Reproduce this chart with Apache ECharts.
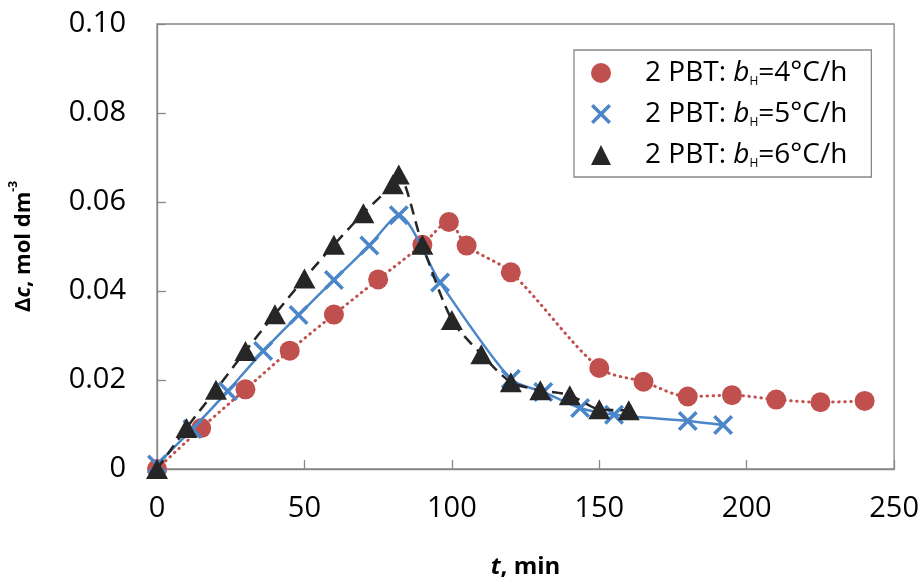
<!DOCTYPE html>
<html>
<head>
<meta charset="utf-8">
<script src="https://cdn.jsdelivr.net/npm/echarts@6/dist/echarts.min.js"></script>
<style>
html,body{margin:0;padding:0;background:#fff;}
#chart{width:922px;height:584px;}
</style>
</head>
<body>
<div id="chart"></div>
<script>
// ---- data ----
const seriesNames = ['2 PBT: bH=4°C/h', '2 PBT: bH=5°C/h', '2 PBT: bH=6°C/h'];
const seriesRates = ['4', '5', '6'];

const redT = [0, 15, 30, 45, 60, 75, 90, 99, 105, 120, 150, 165, 180, 195, 210, 225, 240];
const redC = [0, 0.0092, 0.0179, 0.0266, 0.0347, 0.0426, 0.0504, 0.0555, 0.0502, 0.0442, 0.0227, 0.0196, 0.0163, 0.0166, 0.0156, 0.0150, 0.0153];

const blueT = [0, 12, 24, 36, 48, 60, 72, 82, 96, 120, 131, 143.5, 155, 180, 192];
const blueC = [0.001, 0.009, 0.0175, 0.0265, 0.0346, 0.0425, 0.0502, 0.0570, 0.0419, 0.0202, 0.0173, 0.0137, 0.0122, 0.0108, 0.0099];

const blackT = [0, 10, 20, 30, 40, 50, 60, 70, 80, 82, 90, 100, 110, 120, 130, 140, 150, 160];
const blackC = [0, 0.0092, 0.0178, 0.0265, 0.0348, 0.0428, 0.0504, 0.0575, 0.0640, 0.0662, 0.0504, 0.0335, 0.0258, 0.0195, 0.0177, 0.0166, 0.0134, 0.0132];

const xTicks = { min: 0, max: 250, interval: 50 };
const yTicks = { min: 0, max: 0.10, interval: 0.02 };

// ---- styling ----
const FONT = 'Open Sans';
const RED = '#C0504D';
const BLUE = '#4A86C8';
const BLACK = '#262626';
const AXIS = '#888888';
const CROSS = 'path://M0,2.5L2.5,0L10,7.5L17.5,0L20,2.5L12.5,10L20,17.5L17.5,20L10,12.5L2.5,20L0,17.5L7.5,10Z';

function pairs(t, c) { return t.map((v, i) => [v, c[i]]); }

const chart = echarts.init(document.getElementById('chart'), null, { renderer: 'canvas' });

const option = {
  backgroundColor: '#fff',
  animation: false,
  grid: {
    left: 156, right: 27, top: 24, bottom: 107,
    show: true, borderColor: AXIS, borderWidth: 1.3, backgroundColor: 'transparent'
  },
  legend: {
    orient: 'vertical',
    left: 574, top: 50,
    padding: [8, 24, 7, 17],
    itemGap: 11,
    itemWidth: 20, itemHeight: 20,
    borderColor: AXIS, borderWidth: 1.3, backgroundColor: '#fff',
    data: [
      { name: seriesNames[0], icon: 'circle' },
      { name: seriesNames[1], icon: CROSS },
      { name: seriesNames[2], icon: 'triangle' }
    ],
    formatter: function (name) {
      const i = seriesNames.indexOf(name);
      return '{n|2 PBT: }{i|b}{s|H}{n|=' + seriesRates[i] + '°C/h}';
    },
    textStyle: {
      padding: [0, 0, 0, 29],
      fontFamily: FONT, fontSize: 28, color: '#000', lineHeight: 30,
      rich: {
        n: { fontFamily: FONT, fontSize: 28, color: '#000', lineHeight: 30 },
        i: { fontFamily: FONT, fontSize: 28, color: '#000', fontStyle: 'italic', lineHeight: 30 },
        s: { fontFamily: FONT, fontSize: 12, color: '#000', lineHeight: 9, verticalAlign: 'bottom' }
      }
    }
  },
  xAxis: {
    type: 'value',
    min: xTicks.min, max: xTicks.max, interval: xTicks.interval,
    name: '{i|t}{b|, min}',
    nameLocation: 'middle',
    nameGap: 84,
    nameTextStyle: {
      rich: {
        i: { fontFamily: FONT, fontSize: 24, fontWeight: 'bold', fontStyle: 'italic', color: '#000', lineHeight: 28 },
        b: { fontFamily: FONT, fontSize: 24, fontWeight: 'bold', color: '#000', lineHeight: 28 }
      }
    },
    splitLine: { show: false },
    axisLine: { show: true, onZero: false, lineStyle: { color: AXIS, width: 1.3 } },
    axisTick: { show: true, inside: true, length: 9, lineStyle: { color: AXIS, width: 1.3 } },
    axisLabel: { margin: 25, fontFamily: FONT, fontSize: 29, color: '#000' }
  },
  yAxis: {
    type: 'value',
    min: yTicks.min, max: yTicks.max, interval: yTicks.interval,
    name: '{b|Δ}{i|c}{b|, mol dm}{p|-3}',
    nameLocation: 'middle',
    nameGap: 117,
    nameTextStyle: {
      rich: {
        b: { fontFamily: FONT, fontSize: 22, fontWeight: 'bold', color: '#000', lineHeight: 32 },
        i: { fontFamily: FONT, fontSize: 22, fontWeight: 'bold', fontStyle: 'italic', color: '#000', lineHeight: 32 },
        p: { fontFamily: FONT, fontSize: 12, fontWeight: 'bold', color: '#000', lineHeight: 10, verticalAlign: 'top' }
      }
    },
    splitLine: { show: false },
    axisLine: { show: true, onZero: false, lineStyle: { color: AXIS, width: 1.3 } },
    axisTick: { show: true, inside: true, length: 9, lineStyle: { color: AXIS, width: 1.3 } },
    axisLabel: {
      margin: 31, fontFamily: FONT, fontSize: 29, color: '#000',
      formatter: function (v) { return v === 0 ? '0' : v.toFixed(2); }
    }
  },
  series: [
    {
      name: seriesNames[0], type: 'line',
      data: pairs(redT, redC),
      smooth: 0.3,
      symbol: 'circle', symbolSize: 20,
      itemStyle: { color: RED, borderWidth: 0 },
      lineStyle: { color: RED, width: 3, type: [0.5, 5.5], cap: 'round' },
      z: 2
    },
    {
      name: seriesNames[1], type: 'line',
      data: pairs(blueT, blueC),
      smooth: 0.25,
      symbol: CROSS, symbolSize: 20,
      itemStyle: { color: BLUE, borderWidth: 0 },
      lineStyle: { color: BLUE, width: 2.5 },
      z: 3
    },
    {
      name: seriesNames[2], type: 'line',
      data: pairs(blackT, blackC),
      smooth: 0.25,
      symbol: 'triangle', symbolSize: [22, 20],
      itemStyle: { color: BLACK, borderWidth: 0 },
      lineStyle: { color: BLACK, width: 2.5, type: [11, 7] },
      z: 4
    }
  ]
};

chart.setOption(option);
</script>
</body>
</html>
